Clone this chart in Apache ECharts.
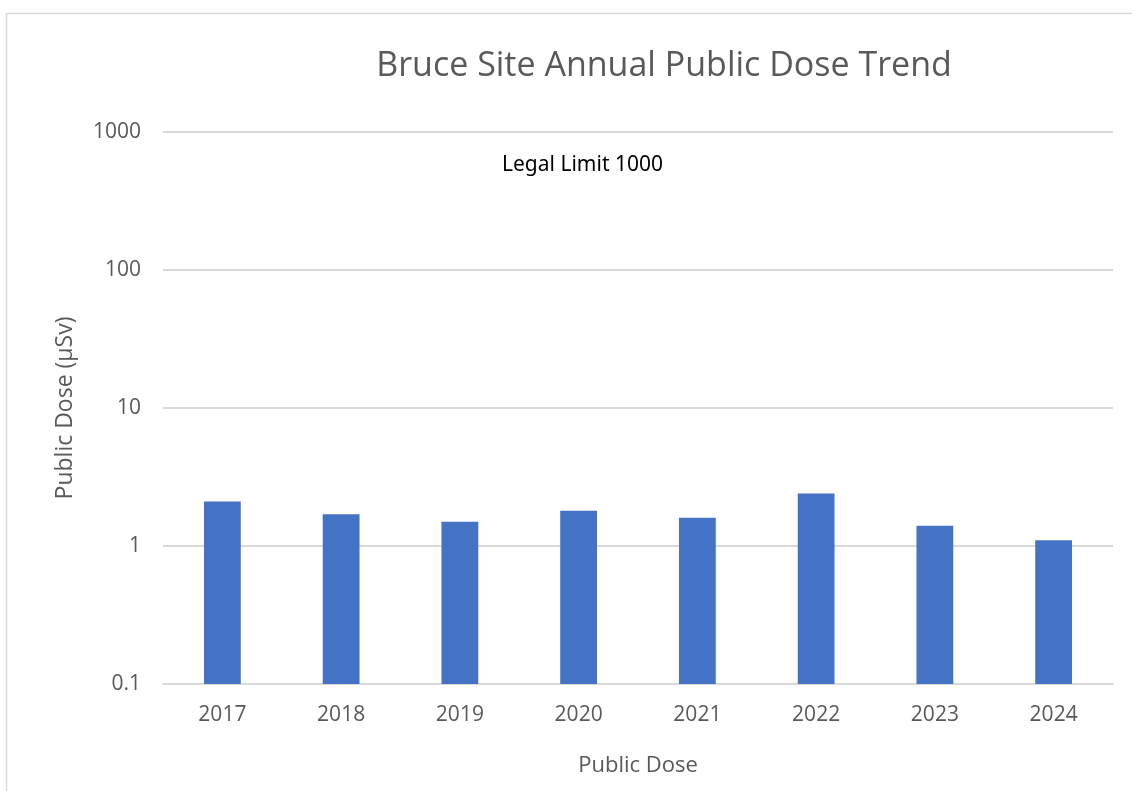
<!DOCTYPE html>
<html>
<head>
<meta charset="utf-8">
<script src="https://cdn.jsdelivr.net/npm/echarts@6/dist/echarts.min.js"></script>
<style>
html,body{margin:0;padding:0;background:#fff;}
#chart{width:1132px;height:791px;}
</style>
</head>
<body>
<div id="chart"></div>
<script>
const years = ['2017','2018','2019','2020','2021','2022','2023','2024'];
const doses = [2.1, 1.7, 1.5, 1.8, 1.6, 2.4, 1.4, 1.1];
const axisMin = 0.1;
const axisMax = 1000;
const titleText = 'Bruce Site Annual Public Dose Trend';
const annotation = 'Legal Limit 1000';

const chart = echarts.init(document.getElementById('chart'));
const font = '"Open Sans", sans-serif';
chart.setOption({
  backgroundColor: '#fff',
  animation: false,
  title: {
    text: titleText,
    left: 659, top: 44, textAlign: 'center',
    textStyle: {fontFamily: font, fontSize: 34, fontWeight: 'normal', color: '#595959'}
  },
  grid: {left: 163, right: 19, top: 132, bottom: 107},
  xAxis: {
    type: 'category', data: years,
    name: 'Public Dose', nameLocation: 'middle', nameGap: 71,
    nameTextStyle: {fontFamily: font, fontSize: 22, color: '#595959'},
    axisTick: {show: false},
    axisLine: {lineStyle: {color: '#d9d9d9', width: 2}},
    axisLabel: {fontFamily: font, fontSize: 21, color: '#595959', margin: 21}
  },
  yAxis: {
    type: 'log', logBase: 10, min: axisMin, max: axisMax,
    name: 'Public Dose (µSv)', nameLocation: 'middle', nameGap: 86, nameRotate: 90,
    nameTextStyle: {fontFamily: font, fontSize: 23, color: '#595959'},
    axisLine: {show: false}, axisTick: {show: false},
    splitLine: {lineStyle: {color: '#d9d9d9', width: 2}},
    axisLabel: {fontFamily: font, fontSize: 21, color: '#595959', margin: 22,
      formatter: function (v) { return String(v); }}
  },
  series: [{
    type: 'custom',
    data: doses.map((v, i) => [i, v]),
    encode: {x: 0, y: 1},
    renderItem: function (params, api) {
      const top = api.coord([api.value(0), api.value(1)]);
      const base = api.coord([api.value(0), axisMin]);
      const w = api.size([1, 0])[0] * 0.31;
      return {
        type: 'rect',
        shape: {x: top[0] - w / 2, y: top[1], width: w, height: base[1] - top[1]},
        style: {fill: '#4472c4'}
      };
    }
  }],
  graphic: [
    {type: 'rect', left: 4, top: 11, shape: {width: 1200, height: 900}, style: {fill: 'none', stroke: '#d9d9d9', lineWidth: 1.5}, z: -1},
    {type: 'text', left: 502, top: 155, style: {text: annotation, fontFamily: '"Noto Sans", sans-serif', fontSize: 21, fill: '#000'}}
  ]
});
</script>
</body>
</html>
